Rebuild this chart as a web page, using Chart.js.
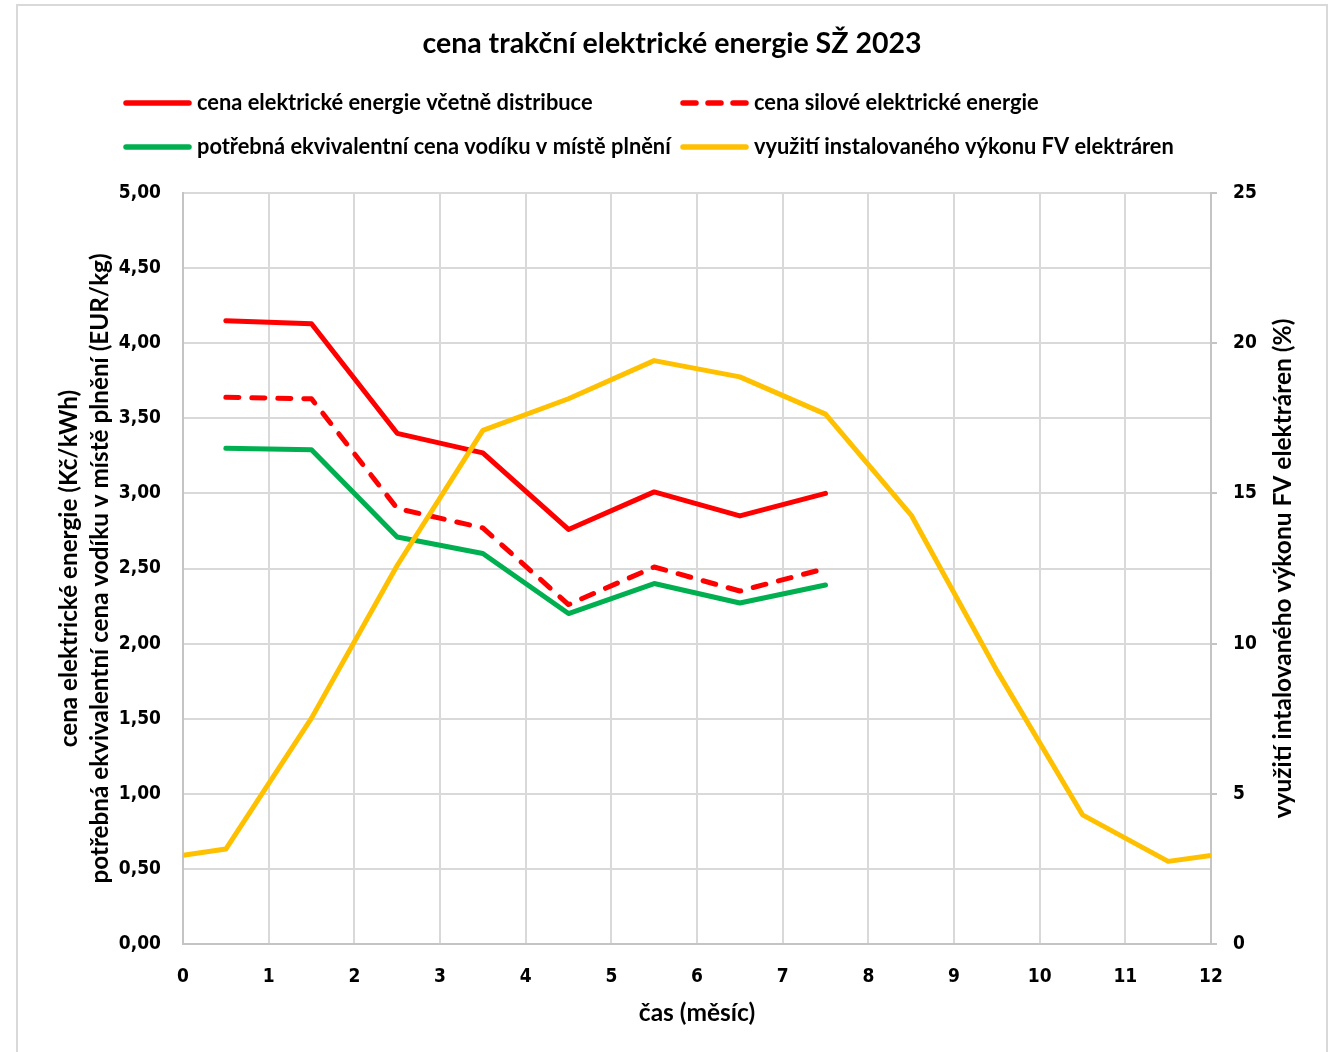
<!DOCTYPE html>
<html>
<head>
<meta charset="utf-8">
<script src="https://cdn.jsdelivr.net/npm/chart.js@4"></script>
<style>
  html, body { margin: 0; padding: 0; background: #ffffff; }
  #wrap { width: 1331px; height: 1052px; }
</style>
</head>
<body>
<div id="wrap"><canvas id="c" width="1331" height="1052"></canvas></div>
<script>
// ---------------- data ----------------
const chartTitle = 'cena trakční elektrické energie SŽ 2023';
const seriesNames = [
  'cena elektrické energie včetně distribuce',
  'cena silové elektrické energie',
  'potřebná ekvivalentní cena vodíku v místě plnění',
  'využití instalovaného výkonu FV elektráren'
];
const priceMonths = [0.5, 1.5, 2.5, 3.5, 4.5, 5.5, 6.5, 7.5];
const priceTotal  = [4.15, 4.13, 3.40, 3.27, 2.76, 3.01, 2.85, 3.00];
const priceEnergy = [3.64, 3.63, 2.90, 2.77, 2.26, 2.51, 2.35, 2.50];
const h2Price     = [3.30, 3.29, 2.71, 2.60, 2.20, 2.40, 2.27, 2.39];
const pvMonths = [0, 0.5, 1.5, 2.5, 3.5, 4.5, 5.5, 6.5, 7.5, 8.5, 9.5, 10.5, 11.5, 12];
const pvUse    = [2.95, 3.16, 7.52, 12.6, 17.1, 18.15, 19.42, 18.88, 17.64, 14.28, 9.1, 4.3, 2.75, 2.95];
const xTickLabels = ['0','1','2','3','4','5','6','7','8','9','10','11','12'];
const leftTickLabels = ['0,00','0,50','1,00','1,50','2,00','2,50','3,00','3,50','4,00','4,50','5,00'];
const rightTickLabels = ['0','5','10','15','20','25'];
const xTitle = 'čas (měsíc)';
const leftTitle = ['cena elektrické energie (Kč/kWh)', 'potřebná ekvivalentní cena vodíku v místě plnění (EUR/kg)'];
const rightTitle = 'využití intalovaného výkonu FV elektráren (%)';

// ---------------- styling ----------------
const TXT = "Lato, 'Open Sans', sans-serif";
const NUM = "'DejaVu Sans Condensed', 'DejaVu Sans', sans-serif";
const RED = '#FF0000', GREEN = '#00B050', YELLOW = '#FFC000';
const GRID = '#D9D9D9', AXIS = '#C4C4C4';

const mctx = document.createElement('canvas').getContext('2d');
function fit(text, target) {
  mctx.font = 'bold 100px ' + TXT;
  return Math.round(100 * target / mctx.measureText(text).width * 2) / 2;
}
const titleSize  = fit(chartTitle, 496);
const legendSize = (fit(seriesNames[0], 395) + fit(seriesNames[2], 475) + fit(seriesNames[3], 411)) / 3;
const leftTitleSize = (fit(leftTitle[0], 358) + fit(leftTitle[1], 629)) / 2;
const rightTitleSize = fit(rightTitle, 495);
const xTitleSize = fit(xTitle, 117);

const pts = (xs, ys) => xs.map((x, i) => ({x: x, y: ys[i]}));

const datasets = [
  { label: seriesNames[0], data: pts(priceMonths, priceTotal), borderColor: RED, yAxisID: 'y', order: 1 },
  { label: seriesNames[1], data: pts(priceMonths, priceEnergy), borderColor: RED, borderDash: [13, 13], yAxisID: 'y', order: 2 },
  { label: seriesNames[2], data: pts(priceMonths, h2Price), borderColor: GREEN, yAxisID: 'y', order: 3 },
  { label: seriesNames[3], data: pts(pvMonths, pvUse), borderColor: YELLOW, yAxisID: 'y2', order: 0 }
].map(d => Object.assign({
  borderWidth: 5, pointRadius: 0, pointHoverRadius: 0, tension: 0,
  borderCapStyle: 'round', borderJoinStyle: 'round', fill: false
}, d));

const legendPos = [
  {x: 123, y: 103}, {x: 680, y: 103},
  {x: 123, y: 147}, {x: 680, y: 147}
];

const decor = {
  id: 'decor',
  beforeDraw(chart) {
    const ctx = chart.ctx;
    ctx.save();
    ctx.fillStyle = '#ffffff';
    ctx.fillRect(0, 0, chart.width, chart.height);
    ctx.strokeStyle = '#D9D9D9';
    ctx.lineWidth = 2;
    ctx.strokeRect(17, 5, 1310, 1100);
    ctx.restore();
  },
  afterDraw(chart) {
    const ctx = chart.ctx;
    ctx.save();
    ctx.fillStyle = '#000000';
    ctx.textBaseline = 'middle';
    ctx.textAlign = 'center';
    ctx.font = 'bold ' + titleSize + 'px ' + TXT;
    ctx.fillText(chartTitle, 672, 44);

    // right axis title, reading bottom-to-top
    const ca = chart.chartArea;
    ctx.save();
    ctx.translate(1283, (ca.top + ca.bottom) / 2);
    ctx.rotate(-Math.PI / 2);
    ctx.font = 'bold ' + rightTitleSize + 'px ' + TXT;
    ctx.fillText(rightTitle, 0, 0);
    ctx.restore();

    ctx.textAlign = 'left';
    ctx.font = 'bold ' + legendSize + 'px ' + TXT;
    chart.data.datasets.forEach((ds, i) => {
      const p = legendPos[i];
      ctx.save();
      ctx.strokeStyle = ds.borderColor;
      ctx.lineWidth = 5.5;
      ctx.lineCap = 'round';
      if (ds.borderDash) ctx.setLineDash([13, 12]);
      ctx.beginPath(); ctx.moveTo(p.x + 3, p.y); ctx.lineTo(p.x + 66, p.y); ctx.stroke();
      ctx.restore();
      ctx.fillText(ds.label, p.x + 74, p.y);
    });
    ctx.restore();
  }
};

new Chart(document.getElementById('c'), {
  type: 'line',
  data: { datasets: datasets },
  plugins: [decor],
  options: {
    responsive: false,
    animation: false,
    events: [],
    layout: { padding: { top: 193, left: 0, right: 0, bottom: 0 } },
    plugins: { legend: { display: false }, title: { display: false }, tooltip: { enabled: false } },
    scales: {
      x: {
        type: 'linear', position: 'bottom', min: 0, max: 12,
        afterFit(s) { s.height = 108; },
        ticks: { stepSize: 1, padding: 22, color: '#000', font: { family: NUM, size: 19, weight: 'bold' },
                 callback: (v, i) => xTickLabels[i], maxRotation: 0, autoSkip: false },
        grid: { color: GRID, lineWidth: 2, drawTicks: false },
        border: { color: AXIS, width: 2 },
        title: { display: true, text: xTitle, color: '#000',
                 font: { family: TXT, size: xTitleSize, weight: 'bold', lineHeight: 1.2 },
                 padding: { top: 0, bottom: 39 - xTitleSize * 0.6 } }
      },
      y: {
        type: 'linear', position: 'left', min: 0, max: 5,
        afterFit(s) { s.width = 183; },
        ticks: { stepSize: 0.5, padding: 22, color: '#000', font: { family: NUM, size: 19, weight: 'bold' },
                 callback: (v, i) => leftTickLabels[i], autoSkip: false },
        grid: { color: GRID, lineWidth: 2, drawTicks: false },
        border: { color: AXIS, width: 2 },
        title: { display: true, text: leftTitle, color: '#000',
                 font: { family: TXT, size: leftTitleSize, weight: 'bold', lineHeight: '31px' },
                 padding: { top: 53.5, bottom: 0 } }
      },
      y2: {
        type: 'linear', position: 'right', min: 0, max: 25,
        afterFit(s) { s.width = 120; },
        ticks: { stepSize: 5, padding: 16, color: '#000', font: { family: NUM, size: 19, weight: 'bold' },
                 callback: (v, i) => rightTickLabels[i], autoSkip: false },
        grid: { color: AXIS, lineWidth: 2, drawOnChartArea: false, drawTicks: true, tickLength: 6 },
        border: { color: AXIS, width: 2 },
        title: { display: false }
      }
    }
  }
});
</script>
</body>
</html>
